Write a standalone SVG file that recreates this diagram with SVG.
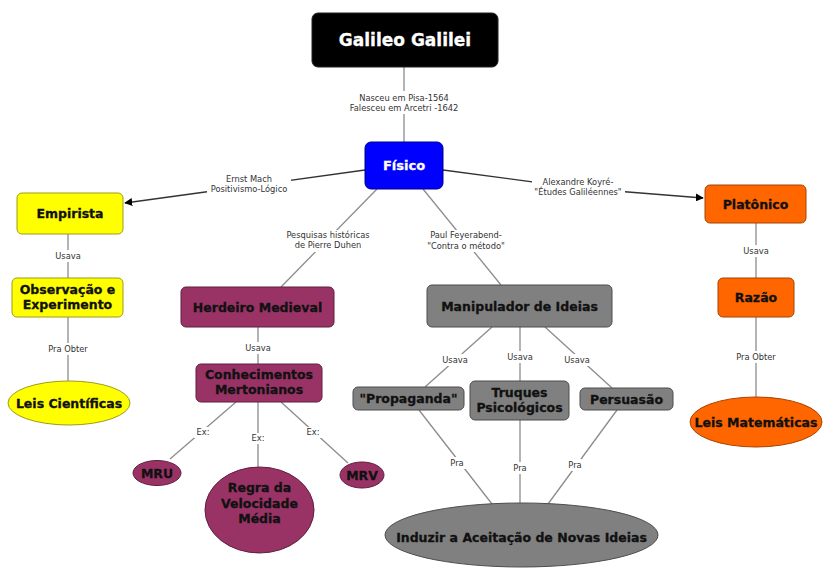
<svg xmlns="http://www.w3.org/2000/svg" width="824" height="569" viewBox="0 0 824 569">
  <style>
    .node text { font-family: "DejaVu Sans", Verdana, sans-serif; font-weight: bold; font-size: 12.5px; text-anchor: middle; fill: #111; stroke: #111; stroke-width: 0.3; }
    .node text.light { fill: #fff; stroke: #fff; }
    .lnk { stroke: #8c8c8c; stroke-width: 1.3; fill: none; }
    .arr { stroke: #333; stroke-width: 1.3; fill: none; marker-end: url(#head); }
    .lbg { fill: #fff; }
    .lbl { font-family: "DejaVu Sans", Verdana, sans-serif; font-size: 8.3px; fill: #333; text-anchor: middle; }
    .black { fill: #000; stroke: #222; }
    .blue { fill: #0000ff; stroke: #00008a; }
    .yellow { fill: #ffff00; stroke: #9c9c1c; }
    .purple { fill: #993366; stroke: #5e1f3e; }
    .gray { fill: #808080; stroke: #4d4d4d; }
    .orange { fill: #ff6600; stroke: #a84300; }
  </style>
  <defs>
    <marker id="head" viewBox="0 0 10 10" refX="9" refY="5" markerWidth="8" markerHeight="8" markerUnits="userSpaceOnUse" orient="auto">
      <path d="M0,0 L10,5 L0,10 z" fill="#000"/>
    </marker>
  </defs>

  <rect width="824" height="569" fill="#fff"/>

  <!-- connectors and their labels -->
  <g id="connectors">
    <line class="lnk" x1="404" y1="67" x2="404" y2="142"/>
    <polyline class="arr" points="365,170 249,186 125,203"/>
    <polyline class="arr" points="443,170 578,188 703,198"/>
    <line class="lnk" x1="377" y1="189" x2="281" y2="287"/>
    <line class="lnk" x1="423" y1="189" x2="501" y2="285"/>
    <line class="lnk" x1="68" y1="234" x2="68" y2="278"/>
    <line class="lnk" x1="68" y1="317" x2="68" y2="381"/>
    <line class="lnk" x1="258" y1="327" x2="258" y2="364"/>
    <line class="lnk" x1="236" y1="402" x2="170" y2="459"/>
    <line class="lnk" x1="258" y1="402" x2="258" y2="467"/>
    <line class="lnk" x1="281" y1="402" x2="348" y2="463"/>
    <line class="lnk" x1="492" y1="327" x2="425" y2="387"/>
    <line class="lnk" x1="520" y1="327" x2="520" y2="381"/>
    <line class="lnk" x1="545" y1="327" x2="612" y2="388"/>
    <line class="lnk" x1="419" y1="410" x2="492" y2="504"/>
    <line class="lnk" x1="520" y1="420" x2="520" y2="503"/>
    <line class="lnk" x1="617" y1="410" x2="548" y2="504"/>
    <line class="lnk" x1="756" y1="223" x2="756" y2="278"/>
    <line class="lnk" x1="756" y1="317" x2="756" y2="397"/>

    <g id="link-labels">
      <rect class="lbg" x="352" y="91" width="104" height="23"/>
      <text class="lbl" x="404" y="101">Nasceu em Pisa-1564</text>
      <text class="lbl" x="404" y="111">Falesceu em Arcetri -1642</text>

      <rect class="lbg" x="207" y="174" width="84" height="21"/>
      <text class="lbl" x="249" y="182">Ernst Mach</text>
      <text class="lbl" x="249" y="192">Positivismo-Lógico</text>

      <rect class="lbg" x="532" y="176" width="93" height="22"/>
      <text class="lbl" x="578" y="185">Alexandre Koyré-</text>
      <text class="lbl" x="578" y="195">"Études Galiléennes"</text>

      <rect class="lbg" x="284" y="230" width="88" height="22"/>
      <text class="lbl" x="328" y="238">Pesquisas históricas</text>
      <text class="lbl" x="328" y="248">de Pierre Duhen</text>

      <rect class="lbg" x="424" y="230" width="84" height="22"/>
      <text class="lbl" x="466" y="238">Paul Feyerabend-</text>
      <text class="lbl" x="466" y="249">"Contra o método"</text>

      <rect class="lbg" x="53" y="250" width="30" height="12"/>
      <text class="lbl" x="68" y="259">Usava</text>
      <rect class="lbg" x="48" y="343" width="40" height="12"/>
      <text class="lbl" x="68" y="352">Pra Obter</text>

      <rect class="lbg" x="243" y="342" width="30" height="12"/>
      <text class="lbl" x="258" y="351">Usava</text>
      <rect class="lbg" x="194" y="427" width="18" height="11"/>
      <text class="lbl" x="203" y="435">Ex:</text>
      <rect class="lbg" x="249" y="433" width="18" height="11"/>
      <text class="lbl" x="258" y="441">Ex:</text>
      <rect class="lbg" x="304" y="427" width="18" height="11"/>
      <text class="lbl" x="313" y="435">Ex:</text>

      <rect class="lbg" x="440" y="354" width="30" height="12"/>
      <text class="lbl" x="455" y="363">Usava</text>
      <rect class="lbg" x="505" y="351" width="30" height="12"/>
      <text class="lbl" x="520" y="360">Usava</text>
      <rect class="lbg" x="562" y="354" width="30" height="12"/>
      <text class="lbl" x="577" y="363">Usava</text>

      <rect class="lbg" x="447" y="457" width="20" height="12"/>
      <text class="lbl" x="457" y="466">Pra</text>
      <rect class="lbg" x="510" y="462" width="20" height="12"/>
      <text class="lbl" x="520" y="471">Pra</text>
      <rect class="lbg" x="565" y="459" width="20" height="12"/>
      <text class="lbl" x="575" y="468">Pra</text>

      <rect class="lbg" x="741" y="245" width="30" height="12"/>
      <text class="lbl" x="756" y="254">Usava</text>
      <rect class="lbg" x="736" y="351" width="40" height="12"/>
      <text class="lbl" x="756" y="360">Pra Obter</text>
    </g>
  </g>

  <!-- concepts -->
  <g id="galileo" class="node">
    <rect class="black" x="312" y="13" width="186" height="54" rx="6"/>
    <text class="light" x="405" y="46" style="font-size:17px">Galileo Galilei</text>
  </g>
  <g id="fisico" class="node">
    <rect class="blue" x="365" y="142" width="78" height="47" rx="6"/>
    <text class="light" x="404" y="170" style="font-size:13px">Físico</text>
  </g>

  <g id="empirista" class="node">
    <rect class="yellow" x="17" y="193" width="106" height="41" rx="5"/>
    <text x="70" y="218">Empirista</text>
  </g>
  <g id="observacao" class="node">
    <rect class="yellow" x="12" y="278" width="111" height="39" rx="5"/>
    <text x="67.5" y="294">Observação e</text>
    <text x="67.5" y="309">Experimento</text>
  </g>
  <g id="leis-cientificas" class="node">
    <ellipse class="yellow" cx="69" cy="403" rx="61" ry="22"/>
    <text x="69" y="407.5">Leis Científicas</text>
  </g>

  <g id="herdeiro" class="node">
    <rect class="purple" x="181" y="287" width="153" height="40" rx="5"/>
    <text x="257.5" y="311.5">Herdeiro Medieval</text>
  </g>
  <g id="mertonianos" class="node">
    <rect class="purple" x="196" y="364" width="126" height="38" rx="5"/>
    <text x="259" y="379">Conhecimentos</text>
    <text x="259" y="394">Mertonianos</text>
  </g>
  <g id="mru" class="node">
    <ellipse class="purple" cx="157" cy="473" rx="24" ry="12.5"/>
    <text x="157" y="477.5">MRU</text>
  </g>
  <g id="regra" class="node">
    <ellipse class="purple" cx="259.5" cy="510" rx="54.5" ry="43"/>
    <text x="259.5" y="492">Regra da</text>
    <text x="259.5" y="508">Velocidade</text>
    <text x="259.5" y="523">Média</text>
  </g>
  <g id="mrv" class="node">
    <ellipse class="purple" cx="362" cy="475" rx="22" ry="13"/>
    <text x="362" y="479.5">MRV</text>
  </g>

  <g id="manipulador" class="node">
    <rect class="gray" x="427" y="285" width="185" height="42" rx="5"/>
    <text x="519.5" y="310.5">Manipulador de Ideias</text>
  </g>
  <g id="propaganda" class="node">
    <rect class="gray" x="353" y="387" width="111" height="23" rx="5"/>
    <text x="408.5" y="403">"Propaganda"</text>
  </g>
  <g id="truques" class="node">
    <rect class="gray" x="470" y="381" width="99" height="39" rx="5"/>
    <text x="519.5" y="397">Truques</text>
    <text x="519.5" y="412">Psicológicos</text>
  </g>
  <g id="persuasao" class="node">
    <rect class="gray" x="580" y="388" width="93" height="22" rx="5"/>
    <text x="626.5" y="403.5">Persuasão</text>
  </g>
  <g id="induzir" class="node">
    <ellipse class="gray" cx="521.5" cy="535" rx="136.5" ry="32"/>
    <text x="521.5" y="542">Induzir a Aceitação de Novas Ideias</text>
  </g>

  <g id="platonico" class="node">
    <rect class="orange" x="705" y="185" width="101" height="38" rx="5"/>
    <text x="755.5" y="208.5">Platônico</text>
  </g>
  <g id="razao" class="node">
    <rect class="orange" x="718" y="278" width="76" height="39" rx="5"/>
    <text x="756" y="302">Razão</text>
  </g>
  <g id="leis-matematicas" class="node">
    <ellipse class="orange" cx="756" cy="422" rx="66" ry="25"/>
    <text x="756" y="426.5">Leis Matemáticas</text>
  </g>
</svg>
